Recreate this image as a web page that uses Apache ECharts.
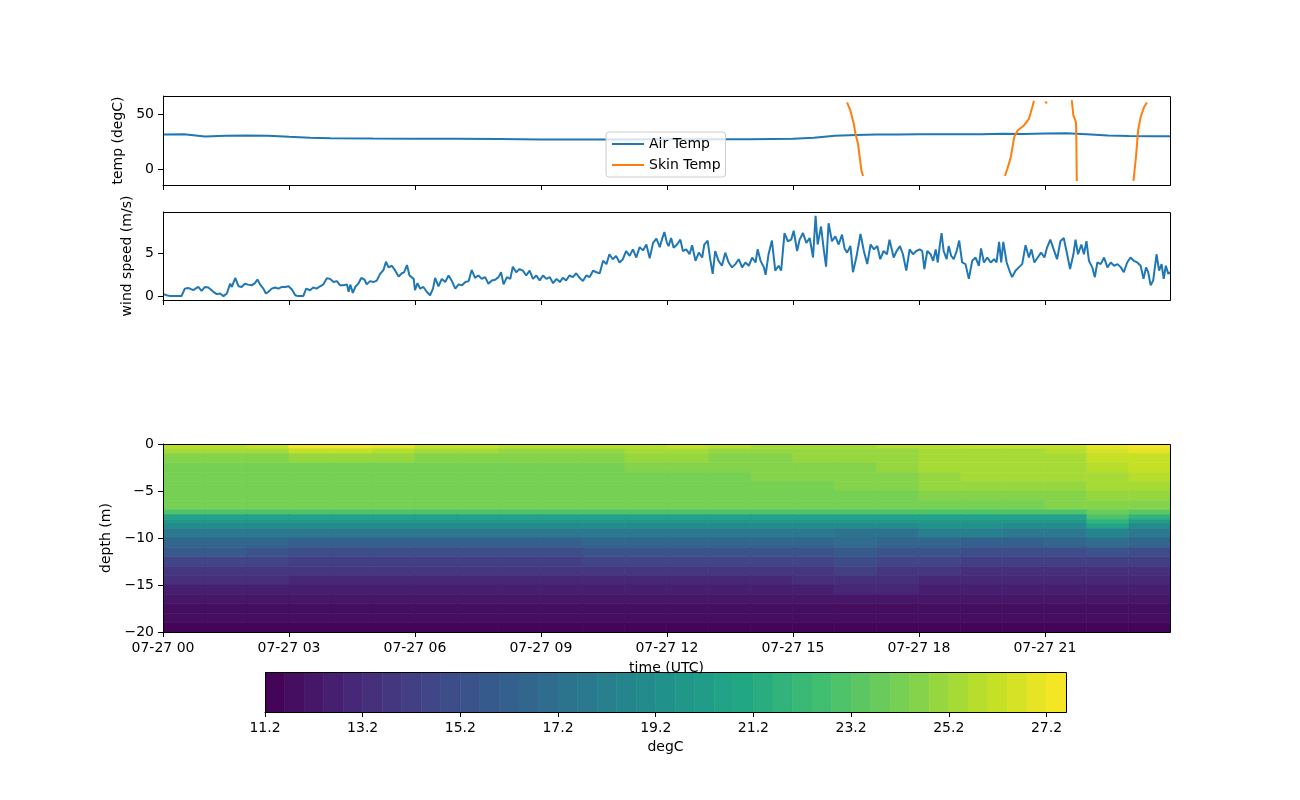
<!DOCTYPE html>
<html>
<head>
<meta charset="utf-8">
<script src="https://cdn.jsdelivr.net/npm/echarts@6/dist/echarts.min.js"></script>
<style>
html, body { margin: 0; padding: 0; background: #fff; }
#main { width: 1300px; height: 800px; }
</style>
</head>
<body>
<div id="main"></div>
<script>
// ---- data ----
var timeTicks = [0, 3, 6, 9, 12, 15, 18, 21];
var tempTicks = [0, 50];
var windTicks = [0, 5];
var depthTicks = [0, -5, -10, -15, -20];
var cbarTicks = [11.2, 13.2, 15.2, 17.2, 19.2, 21.2, 23.2, 25.2, 27.2];

var airHours = [0, 0.5, 1, 1.5, 2, 2.5, 3, 3.5, 4, 5, 6, 7, 8, 9, 10, 11, 12, 13, 14, 15, 15.5, 16, 16.5, 17,
    17.5, 18, 18.5, 19, 19.5, 20, 20.5, 21, 21.5, 22, 22.5, 23, 23.5, 23.98];
var airTemp = [31.3, 31.5, 29.5, 30.2, 30.5, 30.3, 29.2, 28.4, 28.0, 27.7, 27.6, 27.5, 27.2, 26.9, 26.7, 26.8, 27.0, 27.0, 27.0, 27.4, 28.5, 30.2, 31.0, 31.4,
    31.3, 31.6, 31.5, 31.6, 31.5, 32.0, 31.8, 32.2, 32.5, 31.5, 30.5, 30.0, 29.8, 29.8];

// null = gap in the skin temperature record
var skinHours = [16.29, 16.37, 16.45, 16.49, 16.55, 16.59, 16.63, 16.67, null,
    20.05, 20.11, 20.19, 20.27, 20.35, 20.5, 20.62, 20.7, 20.74, null,
    21.0, 21.06, null,
    21.64, 21.68, 21.74, 21.75, 21.76, null,
    23.11, 23.17, 23.22, 23.28, 23.36, 23.43];
var skinTemp = [60.5, 53, 41, 32, 23, 11, -1, -6.3, null,
    -6.3, 0.6, 11, 29, 35, 39.5, 45.5, 56, 62, null,
    60.5, 60.5, null,
    62.6, 48.5, 42.5, 26, -10.8, null,
    -10.8, 11, 35, 47, 56, 60.5];

var windHours = [0.01, 0.09, 0.17, 0.29, 0.44, 0.52, 0.60, 0.72, 0.84, 0.92, 1.00, 1.08, 1.20, 1.28, 1.36, 1.44, 1.52, 1.60, 1.64, 1.72,
    1.80, 1.87, 1.95, 2.03, 2.11, 2.19, 2.25, 2.31, 2.39, 2.45, 2.51, 2.59, 2.67, 2.75, 2.83, 2.91, 2.99, 3.07, 3.15, 3.22,
    3.34, 3.41, 3.50, 3.58, 3.66, 3.74, 3.82, 3.90, 3.98, 4.06, 4.14, 4.22, 4.30, 4.38, 4.42, 4.46, 4.52, 4.58, 4.65, 4.72,
    4.80, 4.85, 4.93, 5.01, 5.09, 5.17, 5.25, 5.31, 5.37, 5.45, 5.53, 5.61, 5.69, 5.74, 5.81, 5.87, 5.97, 6.00, 6.06, 6.12,
    6.20, 6.28, 6.36, 6.43, 6.48, 6.56, 6.64, 6.72, 6.80, 6.88, 6.96, 7.04, 7.12, 7.20, 7.28, 7.35, 7.43, 7.51, 7.59, 7.67,
    7.75, 7.83, 7.91, 7.99, 8.05, 8.11, 8.19, 8.27, 8.33, 8.41, 8.49, 8.57, 8.65, 8.73, 8.81, 8.89, 8.97, 9.05, 9.13, 9.21,
    9.29, 9.37, 9.45, 9.52, 9.60, 9.68, 9.76, 9.84, 9.92, 10.00, 10.08, 10.16, 10.24, 10.32, 10.40, 10.48, 10.56, 10.63, 10.71, 10.79,
    10.87, 10.95, 11.03, 11.11, 11.19, 11.27, 11.35, 11.43, 11.51, 11.59, 11.67, 11.75, 11.83, 11.88, 11.94, 12.00, 12.04, 12.10, 12.16, 12.24,
    12.32, 12.38, 12.46, 12.54, 12.60, 12.68, 12.76, 12.84, 12.89, 12.97, 13.03, 13.09, 13.15, 13.23, 13.31, 13.39, 13.47, 13.55, 13.63, 13.71,
    13.79, 13.87, 13.95, 14.03, 14.11, 14.16, 14.23, 14.31, 14.35, 14.42, 14.50, 14.58, 14.66, 14.72, 14.80, 14.88, 14.96, 15.02, 15.10, 15.16,
    15.24, 15.32, 15.40, 15.48, 15.54, 15.59, 15.67, 15.73, 15.79, 15.85, 15.93, 16.01, 16.09, 16.17, 16.23, 16.29, 16.37, 16.43, 16.51, 16.61,
    16.69, 16.77, 16.85, 16.93, 17.01, 17.08, 17.16, 17.24, 17.30, 17.40, 17.47, 17.55, 17.62, 17.70, 17.78, 17.86, 17.94, 18.02, 18.08, 18.13,
    18.20, 18.28, 18.34, 18.40, 18.45, 18.50, 18.54, 18.59, 18.66, 18.71, 18.77, 18.83, 18.90, 18.96, 19.03, 19.11, 19.19, 19.27, 19.35, 19.43,
    19.48, 19.55, 19.63, 19.71, 19.79, 19.85, 19.91, 19.96, 20.01, 20.09, 20.17, 20.22, 20.30, 20.38, 20.46, 20.54, 20.62, 20.68, 20.75, 20.83,
    20.91, 20.99, 21.05, 21.13, 21.21, 21.29, 21.37, 21.45, 21.53, 21.60, 21.68, 21.73, 21.79, 21.87, 21.93, 21.99, 22.05, 22.13, 22.19, 22.25,
    22.33, 22.41, 22.49, 22.57, 22.65, 22.73, 22.81, 22.88, 22.96, 23.04, 23.12, 23.20, 23.28, 23.35, 23.41, 23.46, 23.52, 23.58, 23.66, 23.72,
    23.78, 23.83, 23.88, 23.94, 23.98];
var windSpeed = [0.23, 0.1, 0, 0, 0, 0.87, 0.95, 0.7, 1.06, 0.6, 1.06, 1.0, 0.5, 0.23, 0.3, 0, 0.3, 1.44, 1.06, 2.1,
    1.14, 1.06, 1.44, 1.33, 1.25, 1.5, 1.93, 1.36, 0.87, 0.3, 0.5, 0.87, 1.0, 0.87, 1.06, 1.06, 1.14, 0.76, 0.1, 0,
    0, 0.87, 0.68, 1.0, 0.87, 1.14, 1.36, 2.08, 2.0, 1.63, 1.74, 1.25, 1.25, 1.36, 0.5, 1.33, 0.38, 1.06, 1.44, 2.1,
    1.9, 1.36, 1.74, 1.63, 1.8, 2.58, 3.03, 3.98, 3.33, 3.52, 2.95, 2.27, 2.65, 2.76, 3.6, 2.39, 2.0, 0.68, 1.5, 0.87,
    1.06, 0.5, 0.1, 0.87, 2.12, 1.14, 2.0, 1.63, 2.39, 1.74, 0.87, 1.36, 1.25, 1.63, 1.74, 3.03, 2.12, 2.39, 2.0, 2.2,
    1.44, 1.82, 1.9, 2.2, 2.77, 1.36, 2.2, 2.0, 3.41, 2.77, 3.14, 2.95, 2.39, 2.95, 2.0, 2.39, 1.82, 2.39, 2.0, 2.2,
    1.5, 2.0, 1.63, 2.12, 1.82, 2.39, 2.2, 2.65, 2.12, 1.74, 2.39, 2.2, 2.95, 2.77, 2.65, 4.09, 3.71, 4.85, 4.28, 4.66,
    3.9, 4.28, 5.23, 4.66, 5.42, 4.47, 5.68, 5.3, 5.98, 4.39, 6.17, 6.67, 5.68, 6.55, 7.42, 6.17, 5.8, 6.74, 5.6, 5.98,
    6.55, 5.23, 5.42, 4.85, 5.9, 4.09, 5.04, 4.47, 5.98, 6.44, 4.28, 2.58, 5.23, 4.09, 3.52, 5.04, 3.9, 3.33, 3.71, 4.28,
    3.33, 3.9, 3.52, 4.47, 3.9, 5.42, 4.09, 3.33, 2.46, 4.85, 6.44, 2.95, 3.52, 2.95, 7.31, 6.36, 6.55, 7.58, 5.23, 6.55,
    7.31, 6.17, 6.74, 4.47, 9.32, 5.98, 8.07, 5.6, 3.41, 8.45, 6.36, 6.93, 5.98, 7.12, 5.53, 5.04, 5.8, 2.77, 4.47, 7.2,
    5.23, 3.71, 5.98, 5.42, 5.8, 4.28, 5.23, 4.85, 6.55, 4.47, 5.23, 5.8, 4.85, 2.95, 5.42, 4.85, 5.23, 5.42, 5.23, 3.14,
    5.23, 4.85, 4.09, 5.42, 3.9, 5.98, 7.31, 5.23, 4.28, 5.8, 4.66, 4.28, 5.23, 6.44, 3.9, 3.71, 2.0, 4.09, 4.47, 3.52,
    5.53, 3.9, 4.47, 3.9, 4.28, 3.9, 6.29, 3.9, 6.29, 3.9, 2.77, 2.2, 2.95, 3.33, 3.71, 5.9, 4.47, 5.42, 3.9, 4.47,
    5.04, 4.47, 5.6, 6.55, 5.42, 4.28, 6.36, 6.74, 4.85, 3.14, 4.85, 6.55, 4.85, 5.98, 4.85, 6.36, 4.09, 3.33, 2.2, 3.9,
    3.71, 4.47, 3.33, 3.9, 3.52, 3.71, 3.33, 2.77, 3.9, 4.47, 4.09, 3.9, 3.52, 2.0, 3.33, 2.77, 1.25, 1.82, 4.85, 2.95,
    3.71, 2.0, 3.52, 2.58, 2.77];

// water temperature section: columns are hours, rows are depth layers (m)
var hourEdges = [0, 1, 2, 3, 4, 5, 6, 7, 8, 9, 10, 11, 12, 13, 14, 15, 16, 17, 18, 19, 20, 21, 22, 23, 23.98];
var depthEdges = [0, 0.5, 1, 2, 3, 4, 5, 6, 7, 7.5, 8, 8.5, 9, 10, 11, 12, 13, 14, 15, 16, 17, 18, 19, 20];
var waterTemp = [
    [25.6, 25.8, 26.2, 27.3, 27.2, 26.8, 26.2, 26.0, 25.8, 25.8, 25.7, 25.9, 26.0, 25.6, 25.5, 25.4, 25.5, 25.6, 25.9, 26.0, 26.0, 26.3, 27.0, 27.5],
    [25.2, 25.2, 25.4, 26.3, 26.2, 25.8, 25.4, 25.2, 25.0, 25.0, 25.0, 25.3, 25.3, 25.0, 25.0, 25.0, 25.0, 25.1, 25.4, 25.5, 25.5, 25.8, 26.5, 27.0],
    [24.6, 24.6, 24.7, 25.0, 25.0, 24.9, 24.7, 24.6, 24.5, 24.5, 24.5, 24.8, 24.8, 24.7, 24.7, 24.8, 24.9, 25.0, 25.2, 25.3, 25.3, 25.5, 26.0, 26.3],
    [24.3, 24.3, 24.3, 24.3, 24.3, 24.3, 24.3, 24.3, 24.3, 24.3, 24.3, 24.4, 24.5, 24.5, 24.5, 24.6, 24.7, 24.8, 25.3, 25.4, 25.4, 25.5, 25.8, 26.0],
    [24.2, 24.2, 24.2, 24.2, 24.2, 24.2, 24.2, 24.2, 24.2, 24.2, 24.2, 24.3, 24.3, 24.3, 24.4, 24.5, 24.6, 24.7, 25.1, 25.2, 25.2, 25.3, 25.5, 25.6],
    [24.2, 24.2, 24.2, 24.2, 24.2, 24.2, 24.2, 24.2, 24.2, 24.2, 24.2, 24.2, 24.2, 24.2, 24.3, 24.3, 24.4, 24.5, 24.8, 24.9, 24.9, 25.0, 25.2, 25.3],
    [24.1, 24.1, 24.1, 24.1, 24.1, 24.1, 24.1, 24.1, 24.1, 24.1, 24.1, 24.1, 24.1, 24.1, 24.1, 24.1, 24.2, 24.3, 24.4, 24.5, 24.5, 24.6, 24.8, 24.9],
    [24.0, 24.0, 24.0, 24.0, 24.0, 24.0, 24.0, 24.0, 24.0, 24.0, 24.0, 24.0, 24.0, 24.0, 24.0, 24.0, 24.0, 24.1, 24.2, 24.3, 24.3, 24.4, 24.5, 24.6],
    [23.0, 23.0, 23.0, 23.0, 23.0, 23.0, 23.0, 23.0, 23.0, 23.0, 23.0, 23.0, 23.0, 23.0, 23.0, 23.0, 23.0, 23.0, 23.0, 23.0, 23.0, 23.0, 23.8, 23.2],
    [20.6, 20.6, 20.6, 20.6, 20.6, 20.6, 20.6, 20.6, 20.6, 20.6, 20.6, 20.6, 20.6, 20.6, 20.6, 20.6, 20.6, 20.6, 20.6, 20.6, 20.6, 20.6, 22.8, 21.6],
    [19.6, 19.6, 19.6, 19.6, 19.6, 19.6, 19.6, 19.6, 19.6, 19.6, 19.6, 19.6, 19.6, 19.6, 19.6, 19.6, 19.6, 19.6, 19.8, 19.8, 19.6, 19.6, 21.6, 20.2],
    [18.8, 18.8, 18.8, 18.8, 18.8, 18.8, 18.8, 18.8, 18.8, 18.8, 18.8, 18.8, 18.8, 18.8, 18.8, 18.8, 18.8, 18.8, 19.2, 19.2, 18.8, 18.8, 20.4, 19.0],
    [17.8, 17.8, 17.8, 17.6, 17.6, 17.6, 17.6, 17.6, 17.6, 17.6, 17.6, 17.8, 17.8, 17.8, 17.8, 17.7, 17.4, 17.4, 18.2, 18.2, 17.9, 17.9, 18.6, 17.8],
    [16.6, 16.6, 16.6, 16.3, 16.3, 16.3, 16.3, 16.3, 16.3, 16.3, 16.4, 16.6, 16.6, 16.6, 16.6, 16.6, 16.8, 16.6, 16.5, 16.3, 16.3, 16.5, 17.0, 16.4],
    [15.6, 15.6, 15.5, 15.1, 15.1, 15.1, 15.1, 15.1, 15.1, 15.1, 15.2, 15.4, 15.4, 15.4, 15.4, 15.5, 15.7, 15.5, 15.2, 14.9, 14.9, 15.0, 15.3, 14.9],
    [14.7, 14.7, 14.6, 14.3, 14.3, 14.3, 14.3, 14.3, 14.3, 14.3, 14.4, 14.5, 14.5, 14.5, 14.5, 14.6, 14.8, 14.6, 14.4, 14.1, 14.0, 14.1, 14.3, 14.0],
    [13.9, 13.9, 13.8, 13.6, 13.6, 13.6, 13.6, 13.6, 13.6, 13.6, 13.6, 13.7, 13.7, 13.7, 13.7, 13.8, 14.0, 13.9, 13.7, 13.5, 13.4, 13.5, 13.5, 13.4],
    [13.3, 13.3, 13.2, 13.1, 13.1, 13.1, 13.1, 13.1, 13.1, 13.1, 13.1, 13.1, 13.1, 13.1, 13.1, 13.2, 13.3, 13.3, 13.1, 13.0, 12.9, 13.0, 13.0, 12.9],
    [12.7, 12.7, 12.7, 12.7, 12.7, 12.7, 12.7, 12.7, 12.7, 12.7, 12.7, 12.7, 12.7, 12.7, 12.7, 12.7, 12.9, 12.8, 12.7, 12.7, 12.7, 12.7, 12.7, 12.7],
    [12.2, 12.2, 12.2, 12.2, 12.2, 12.2, 12.2, 12.2, 12.2, 12.2, 12.2, 12.2, 12.2, 12.2, 12.2, 12.2, 12.2, 12.2, 12.2, 12.2, 12.2, 12.2, 12.2, 12.2],
    [11.9, 11.9, 11.9, 11.9, 11.9, 11.9, 11.9, 11.9, 11.9, 11.9, 11.9, 11.9, 11.9, 11.9, 11.9, 11.9, 11.9, 11.9, 11.9, 11.9, 11.9, 11.9, 11.9, 11.9],
    [11.6, 11.6, 11.6, 11.6, 11.6, 11.6, 11.6, 11.6, 11.6, 11.6, 11.6, 11.6, 11.6, 11.6, 11.6, 11.6, 11.6, 11.6, 11.6, 11.6, 11.6, 11.6, 11.6, 11.6],
    [11.3, 11.3, 11.3, 11.3, 11.3, 11.3, 11.3, 11.3, 11.3, 11.3, 11.3, 11.3, 11.3, 11.3, 11.3, 11.3, 11.3, 11.3, 11.3, 11.3, 11.3, 11.3, 11.3, 11.3]
];

// contour levels of the colour scale
var levelMin = 11.2, levelStep = 0.4, levelCount = 41;

// ---- layout ----
var FONT = 'DejaVu Sans';
var panels = [
    { left: 163, top: 96, width: 1007, height: 89 },
    { left: 163, top: 212, width: 1007, height: 88 },
    { left: 163, top: 444, width: 1007, height: 188 },
    { left: 265, top: 672, width: 801, height: 40 }
];

var viridis = ['#440154', '#482475', '#414487', '#355f8d', '#2a788e', '#21918c',
    '#22a884', '#44bf70', '#7ad151', '#bddf26', '#fde725'];

function hexRgb(h) {
    return [parseInt(h.substr(1, 2), 16), parseInt(h.substr(3, 2), 16), parseInt(h.substr(5, 2), 16)];
}

function cmap(f) {
    var p = Math.max(0, Math.min(1, f)) * (viridis.length - 1);
    var i = Math.min(Math.floor(p), viridis.length - 2);
    var a = hexRgb(viridis[i]), b = hexRgb(viridis[i + 1]), u = p - i;
    return 'rgb(' + [0, 1, 2].map(function (k) { return Math.round(a[k] + (b[k] - a[k]) * u); }).join(',') + ')';
}

// colour of the filled contour band a temperature falls in
function levelColor(t) {
    var k = Math.floor((t - levelMin) / levelStep + 1e-6);
    k = Math.max(0, Math.min(levelCount - 1, k));
    return cmap((k + 0.5) / levelCount);
}

function minus(v) {
    return String(v).replace('-', '\u2212');
}

function pair(xs, ys) {
    return xs.map(function (x, i) { return [x, ys[i]]; });
}

var cells = [];
for (var r = 0; r < waterTemp.length; r++) {
    for (var c = 0; c < hourEdges.length - 1; c++) {
        cells.push([hourEdges[c], hourEdges[c + 1], -depthEdges[r], -depthEdges[r + 1], waterTemp[r][c]]);
    }
}

var bands = [];
for (var k = 0; k < levelCount; k++) {
    var lo = levelMin + k * levelStep;
    bands.push([lo, lo + levelStep, 0, 1, lo + levelStep / 2]);
}

function renderRect(params, api) {
    var p0 = api.coord([api.value(0), api.value(2)]);
    var p1 = api.coord([api.value(1), api.value(3)]);
    var color = levelColor(api.value(4));
    return {
        type: 'rect',
        shape: { x: p0[0], y: p0[1], width: p1[0] - p0[0], height: p1[1] - p0[1] },
        style: { fill: color, stroke: color, lineWidth: 0.6 }
    };
}

var labelStyle = { fontFamily: FONT, fontSize: 14, color: '#000' };
var axisLine = { show: true, onZero: false, lineStyle: { color: '#000', width: 1 } };

function timeAxis(grid, withLabels) {
    return {
        type: 'value', gridIndex: grid, min: 0, max: 23.98, z: 5,
        axisLine: axisLine,
        axisTick: { show: true, inside: false, length: 5, customValues: timeTicks, lineStyle: { color: '#000' } },
        axisLabel: {
            show: withLabels, margin: 9, fontFamily: FONT, fontSize: 14, color: '#000',
            customValues: timeTicks,
            formatter: function (v) { return '07-27 ' + (v < 10 ? '0' : '') + v; }
        },
        splitLine: { show: false },
        name: withLabels ? 'time (UTC)' : '', nameLocation: 'middle', nameGap: 29, nameTextStyle: labelStyle
    };
}

function valueAxis(grid, min, max, ticks, name, gap) {
    return {
        type: 'value', gridIndex: grid, min: min, max: max, z: 5,
        axisLine: axisLine,
        axisTick: { show: true, inside: false, length: 5, customValues: ticks, lineStyle: { color: '#000' } },
        axisLabel: { margin: 9, fontFamily: FONT, fontSize: 14, color: '#000', customValues: ticks, formatter: minus },
        splitLine: { show: false },
        name: name, nameLocation: 'middle', nameRotate: 90, nameGap: gap, nameTextStyle: labelStyle
    };
}

var frames = panels.map(function (p) {
    return {
        type: 'rect', silent: true, z: 100,
        shape: { x: p.left + 0.5, y: p.top + 0.5, width: p.width, height: p.height },
        style: { fill: null, stroke: '#000', lineWidth: 1 }
    };
});

var chart = echarts.init(document.getElementById('main'));
chart.setOption({
    animation: false,
    backgroundColor: '#fff',
    textStyle: { fontFamily: FONT },
    grid: panels,
    graphic: frames,
    legend: {
        data: ['Air Temp', 'Skin Temp'],
        left: 606, top: 132, orient: 'vertical',
        padding: [4, 5, 4, 6], itemGap: 5, itemWidth: 32, itemHeight: 2, icon: 'rect',
        backgroundColor: 'rgba(255,255,255,0.8)', borderColor: '#cccccc', borderWidth: 1, borderRadius: 3,
        textStyle: { fontFamily: FONT, fontSize: 14, color: '#000', lineHeight: 16 }
    },
    xAxis: [
        timeAxis(0, false),
        timeAxis(1, false),
        timeAxis(2, true),
        {
            type: 'value', gridIndex: 3, min: levelMin, max: levelMin + levelStep * levelCount, z: 5,
            axisLine: axisLine,
            axisTick: { show: true, length: 5, customValues: cbarTicks, lineStyle: { color: '#000' } },
            axisLabel: {
                margin: 9, fontFamily: FONT, fontSize: 14, color: '#000', customValues: cbarTicks,
                formatter: function (v) { return v.toFixed(1); }
            },
            splitLine: { show: false },
            name: 'degC', nameLocation: 'middle', nameGap: 28, nameTextStyle: labelStyle
        }
    ],
    yAxis: [
        valueAxis(0, -14.5, 66.3, tempTicks, 'temp (degC)', 32),
        valueAxis(1, -0.45, 9.75, windTicks, 'wind speed (m/s)', 24),
        valueAxis(2, -20, 0, depthTicks, 'depth (m)', 43),
        { type: 'value', gridIndex: 3, min: 0, max: 1, show: false }
    ],
    series: [
        {
            name: 'Air Temp', type: 'line', xAxisIndex: 0, yAxisIndex: 0,
            data: pair(airHours, airTemp), showSymbol: false, symbol: 'none',
            itemStyle: { color: '#1f77b4' }, lineStyle: { color: '#1f77b4', width: 2 }
        },
        {
            name: 'Skin Temp', type: 'line', xAxisIndex: 0, yAxisIndex: 0,
            data: pair(skinHours, skinTemp), showSymbol: false, symbol: 'none', connectNulls: false,
            itemStyle: { color: '#ff7f0e' }, lineStyle: { color: '#ff7f0e', width: 2 }
        },
        {
            name: 'wind', type: 'line', xAxisIndex: 1, yAxisIndex: 1,
            data: pair(windHours, windSpeed), showSymbol: false, symbol: 'none',
            itemStyle: { color: '#1f77b4' }, lineStyle: { color: '#1f77b4', width: 2 }
        },
        {
            name: 'water temp', type: 'custom', xAxisIndex: 2, yAxisIndex: 2,
            renderItem: renderRect, clip: true,
            dimensions: ['t0', 't1', 'd0', 'd1', 'temp'],
            encode: { x: [0, 1], y: [2, 3] },
            data: cells
        },
        {
            name: 'colorbar', type: 'custom', xAxisIndex: 3, yAxisIndex: 3,
            renderItem: renderRect, clip: true,
            dimensions: ['lo', 'hi', 'y0', 'y1', 'mid'],
            encode: { x: [0, 1], y: [2, 3] },
            data: bands
        }
    ]
});
</script>
</body>
</html>
